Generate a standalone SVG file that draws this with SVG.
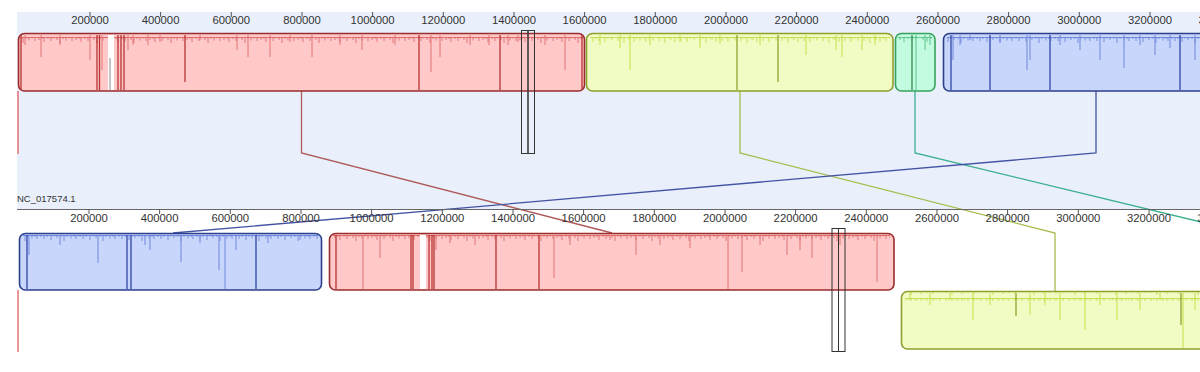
<svg xmlns="http://www.w3.org/2000/svg" width="1200" height="372" viewBox="0 0 1200 372">
<defs>
<style>
.lbl{font-family:"Liberation Sans",Arial,sans-serif;font-size:11.3px;fill:#333;text-anchor:middle}
.name{font-family:"Liberation Sans",Arial,sans-serif;font-size:9.5px;fill:#333}
.tick{stroke:#555;stroke-width:1;fill:none}
.red{fill:#ffc9c9;stroke:#9b2c2c;stroke-width:1.6}
.yel{fill:#f0fcc4;stroke:#8ca02a;stroke-width:1.6}
.grn{fill:#c2fbe0;stroke:#36a45a;stroke-width:1.6}
.blu{fill:#c9d6fb;stroke:#2b3f8c;stroke-width:1.6}
.sr{stroke:#e07272;stroke-width:1;fill:none}
.srd{stroke:#b83434;stroke-width:1.3;fill:none}
.sy{stroke:#c8de48;stroke-width:1;fill:none}
.syd{stroke:#8ea432;stroke-width:1.3;fill:none}
.sg{stroke:#5cc48a;stroke-width:1;fill:none}
.sgd{stroke:#2f8a4a;stroke-width:1.3;fill:none}
.sb{stroke:#6f88dc;stroke-width:1;fill:none}
.sbd{stroke:#3048a8;stroke-width:1.3;fill:none}
.hl{fill:none;stroke:#333;stroke-width:1}
.con{fill:none;stroke-width:1.3}
</style>
<pattern id="pr" width="37" height="9" patternUnits="userSpaceOnUse">
<path d="M0,1.5H37M2,1V4M5,1V3M7,1V6M11,1V3M14,1V5M16,1V2.5M20,1V4M23,1V7M26,1V3M29,1V4.5M32,1V2.5M35,1V5" stroke="#d65858" stroke-width="0.9" fill="none" opacity="0.85"/>
</pattern>
<pattern id="py" width="41" height="9" patternUnits="userSpaceOnUse">
<path d="M0,1.5H41M3,1V5M6,1V3M9,1V7M13,1V3M15,1V4M19,1V6M22,1V3M25,1V5M29,1V2.5M31,1V6M34,1V3M38,1V4.5" stroke="#bcd63a" stroke-width="0.9" fill="none" opacity="0.85"/>
</pattern>
<pattern id="pg" width="23" height="9" patternUnits="userSpaceOnUse">
<path d="M0,1.5H23M3,1V4M7,1V6M11,1V3M15,1V5M19,1V3" stroke="#4cb87a" stroke-width="0.9" fill="none" opacity="0.85"/>
</pattern>
<pattern id="pb" width="39" height="9" patternUnits="userSpaceOnUse">
<path d="M0,1.5H39M2,1V3M5,1V5M8,1V3M12,1V6M15,1V2.5M18,1V4M22,1V3M25,1V7M28,1V3M32,1V4.5M35,1V3M37,1V5" stroke="#5a76d4" stroke-width="0.9" fill="none" opacity="0.85"/>
</pattern>
</defs>
<rect x="0" y="0" width="1200" height="372" fill="#fff"/>
<rect x="17" y="12" width="1183" height="197" fill="#e9f0fc"/>

<g id="top-ruler">
<path class="tick" d="M90,12V17M160.6,12V17M231.3,12V17M302,12V17M372.6,12V17M443.3,12V17M514,12V17M584.6,12V17M655.3,12V17M726,12V17M796.6,12V17M867.3,12V17M938,12V17M1008.6,12V17M1079.3,12V17M1150,12V17"/>
<text class="lbl" x="90" y="24">200000</text>
<text class="lbl" x="160.6" y="24">400000</text>
<text class="lbl" x="231.3" y="24">600000</text>
<text class="lbl" x="302" y="24">800000</text>
<text class="lbl" x="372.6" y="24">1000000</text>
<text class="lbl" x="443.3" y="24">1200000</text>
<text class="lbl" x="514" y="24">1400000</text>
<text class="lbl" x="584.6" y="24">1600000</text>
<text class="lbl" x="655.3" y="24">1800000</text>
<text class="lbl" x="726" y="24">2000000</text>
<text class="lbl" x="796.6" y="24">2200000</text>
<text class="lbl" x="867.3" y="24">2400000</text>
<text class="lbl" x="938" y="24">2600000</text>
<text class="lbl" x="1008.6" y="24">2800000</text>
<text class="lbl" x="1079.3" y="24">3000000</text>
<text class="lbl" x="1150" y="24">3200000</text>
<text class="lbl" x="1220.6" y="24">3400000</text>
</g>

<g id="connectors">
<path class="con" stroke="#b05a5a" d="M301.5,91V153L612,233"/>
<path class="con" stroke="#a8bc4c" d="M740,91V153L1055,233V291"/>
<path class="con" stroke="#3cb08e" d="M915,91V153L1205,223"/>
<path class="con" stroke="#4454a4" d="M1096,91V153L173,233"/>
<path class="con" stroke="#e06060" d="M18,91V154M18,290V352"/>
</g>

<g id="top-red">
<rect class="red" x="18.5" y="33.5" width="566" height="57.5" rx="6"/>
<rect x="21" y="34" width="561" height="9" fill="url(#pr)"/>
<path class="sr" d="M25,35V45M41,35V57M60,35V45M90,35V60M102,35V70M128,35V50M133,35V45M148,35V45M160,35V42M200,35V40M237,35V50M248,35V57M270,35V57M290,35V42M312,35V57M340,35V45M362,35V50M395,35V45M431,35V72M440,35V57M470,35V45M489,35V45M508,35V45M518,35V42M545,35V45M565,35V70"/>
<path class="srd" d="M21,35V90M97,35V90M99.5,35V90M118,35V90M121,35V90M124,35V90M185,35V82M419,35V90M500,35V90M582,35V90"/>
<rect x="108" y="35" width="6" height="55" fill="#fff"/>
<path d="M110,58V90" stroke="#888" stroke-width="1"/>
</g>

<g id="top-yellow">
<rect class="yel" x="586.5" y="33.5" width="306.5" height="57.5" rx="6"/>
<rect x="590" y="34" width="300" height="9" fill="url(#py)"/>
<path class="sy" d="M600,35V45M620,35V48M630,35V70M650,35V45M680,35V42M700,35V48M720,35V44M760,35V45M806,35V55M836,35V50M842,35V57M862,35V50M875,35V45"/>
<path class="syd" d="M737,35V90M778,35V82"/>
</g>

<g id="top-green">
<rect class="grn" x="895.5" y="33.5" width="39.5" height="57.5" rx="6"/>
<rect x="898" y="34" width="34" height="9" fill="url(#pg)"/>
<path class="sg" d="M925,35V50M930,35V45M916,35V90"/>
<path class="sgd" d="M912,35V90"/>
</g>

<g id="top-blue">
<rect class="blu" x="943.5" y="33.5" width="270" height="57.5" rx="6"/>
<rect x="947" y="34" width="253" height="9" fill="url(#pb)"/>
<path class="sb" d="M960,35V45M970,35V40M1000,35V42M1027,35V70M1030,35V60M1060,35V45M1080,35V50M1100,35V60M1124,35V68M1140,35V45M1155,35V55M1170,35V48M1195,35V60M953,35V60"/>
<path class="sbd" d="M951,35V90M990,35V90M1050,35V90M1180,35V90"/>
</g>

<g id="top-highlight">
<rect class="hl" x="521.5" y="30.5" width="6.5" height="123"/>
<rect class="hl" x="528" y="30.5" width="6.5" height="123"/>
</g>

<g id="bottom-ruler">
<text class="name" x="17" y="202">NC_017574.1</text>
<path d="M17,209.5H1200" stroke="#666" stroke-width="1"/>
<path class="tick" d="M89,209V214M159.6,209V214M230.3,209V214M301,209V214M371.6,209V214M442.3,209V214M513,209V214M583.6,209V214M654.3,209V214M725,209V214M795.6,209V214M866.3,209V214M937,209V214M1007.6,209V214M1078.3,209V214M1149,209V214"/>
<text class="lbl" x="89" y="222">200000</text>
<text class="lbl" x="159.6" y="222">400000</text>
<text class="lbl" x="230.3" y="222">600000</text>
<text class="lbl" x="301" y="222">800000</text>
<text class="lbl" x="371.6" y="222">1000000</text>
<text class="lbl" x="442.3" y="222">1200000</text>
<text class="lbl" x="513" y="222">1400000</text>
<text class="lbl" x="583.6" y="222">1600000</text>
<text class="lbl" x="654.3" y="222">1800000</text>
<text class="lbl" x="725" y="222">2000000</text>
<text class="lbl" x="795.6" y="222">2200000</text>
<text class="lbl" x="866.3" y="222">2400000</text>
<text class="lbl" x="937" y="222">2600000</text>
<text class="lbl" x="1007.6" y="222">2800000</text>
<text class="lbl" x="1078.3" y="222">3000000</text>
<text class="lbl" x="1149" y="222">3200000</text>
<text class="lbl" x="1219.6" y="222">3400000</text>
</g>

<g id="bottom-blue">
<rect class="blu" x="19.5" y="233.5" width="302" height="56.5" rx="6"/>
<rect x="23" y="234" width="295" height="9" fill="url(#pb)"/>
<path class="sb" d="M29,235V255M60,235V245M98,235V263M145,235V245M150,235V250M181,235V262M200,235V243M219,235V270M225,235V289M236,235V250M268,235V243M300,235V240"/>
<path class="sbd" d="M27,235V289M127,235V289M131,235V289M256,235V289"/>
</g>

<g id="bottom-red">
<rect class="red" x="329.5" y="233.5" width="564.5" height="56.5" rx="6"/>
<rect x="333" y="234" width="557" height="9" fill="url(#pr)"/>
<path class="sr" d="M363,235V289M380,235V258M436,235V250M450,235V243M475,235V245M554,235V278M570,235V245M610,235V240M636,235V255M660,235V245M690,235V248M728,235V289M742,235V272M760,235V245M787,235V255M800,235V250M812,235V258M840,235V245M877,235V282"/>
<path class="srd" d="M336,235V289M411,235V289M413,235V289M429,235V289M432,235V289M434,235V289M496,235V289M539,235V289"/>
<rect x="420" y="235" width="6" height="54" fill="#fff"/>
</g>

<g id="bottom-yellow">
<rect class="yel" x="901.5" y="291.5" width="310" height="57.5" rx="6"/>
<rect x="905" y="292" width="295" height="9" fill="url(#py)"/>
<path class="sy" d="M910,293V300M930,293V305M950,293V300M973,293V320M990,293V305M1030,293V315M1045,293V305M1060,293V320M1085,293V330M1100,293V305M1117,293V320M1140,293V310M1160,293V300M1195,293V310M1183,293V348"/>
<path class="syd" d="M1016,293V316M1181,293V325"/>
</g>

<g id="bottom-highlight">
<rect class="hl" x="832" y="228.5" width="6.5" height="123"/>
<rect class="hl" x="838.5" y="228.5" width="6.5" height="123"/>
</g>
</svg>
